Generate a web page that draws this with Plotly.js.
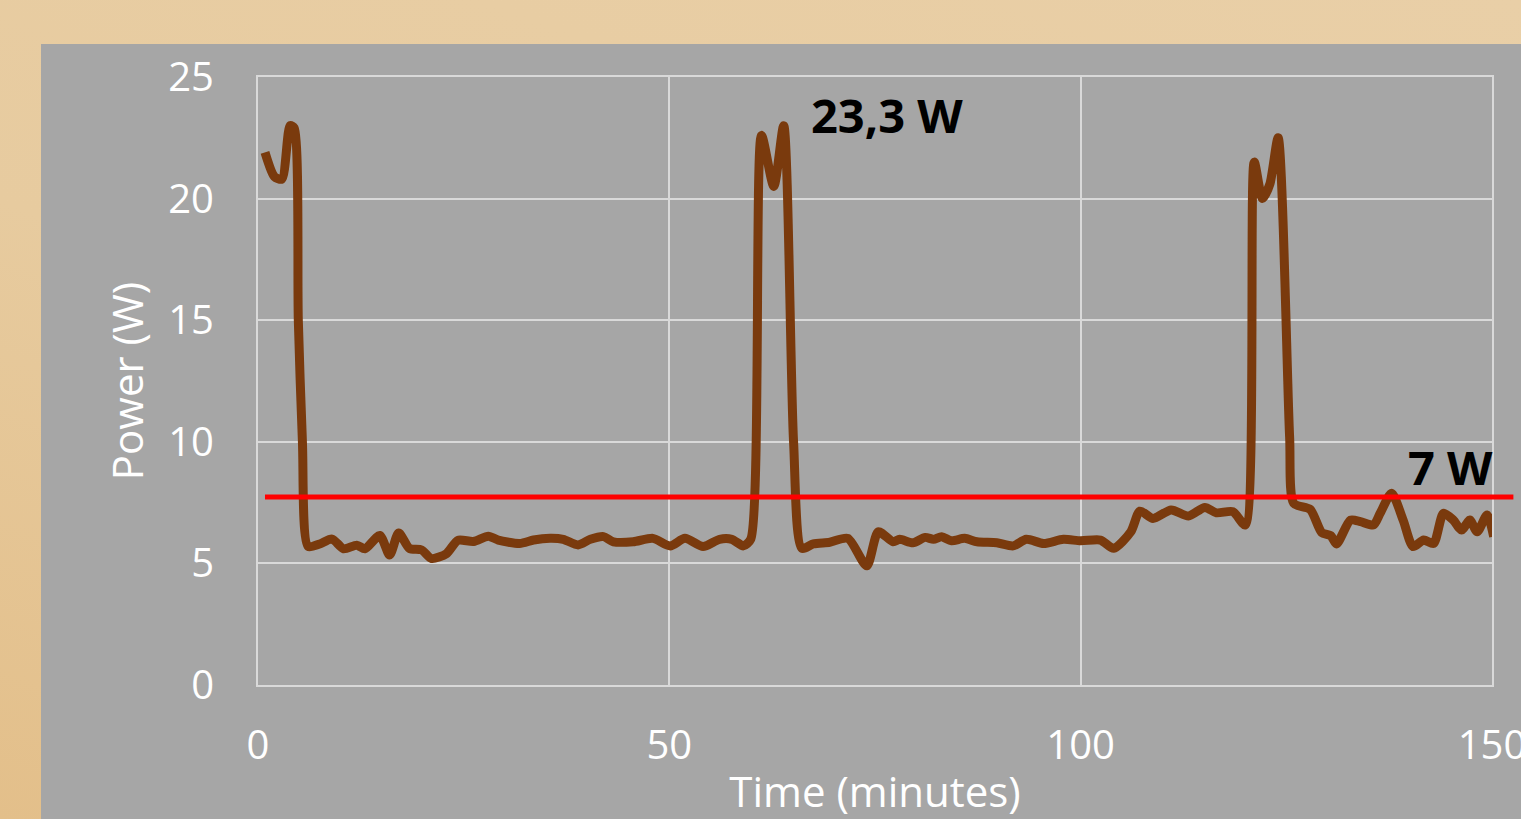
<!DOCTYPE html>
<html>
<head>
<meta charset="utf-8">
<script src="https://cdn.plot.ly/plotly-3.0.1.min.js"></script>
<style>
  html, body { margin: 0; padding: 0; width: 1521px; height: 819px; overflow: hidden; }
  body { background: linear-gradient(20deg, #e3bf8a 0%, #e7cb9f 45%, #e9cfa7 100%); position: relative; }
  #panel { position: absolute; left: 41px; top: 44px; right: 0; bottom: 0; background: #a6a6a6; }
  #chart { position: absolute; left: 0; top: 0; width: 1521px; height: 819px; }
</style>
</head>
<body>
<div id="panel"></div>
<div id="chart"></div>
<script>
// Time in minutes
const timeMin = [0.85, 2.0, 2.9, 3.9, 4.4, 4.9, 5.4, 6.1, 7.5, 9.0, 10.4, 12.0, 13.0, 14.8, 16.0, 17.1, 18.4, 19.9, 21.1, 22.9,
  24.3, 26.2, 28.0, 29.2, 31.8, 33.5, 35.5, 37.1, 38.9, 40.4, 42.0, 43.2, 45.6, 48.0, 50.1, 51.9, 54.1, 56.1, 57.6, 59.0,
  59.9, 61.2, 62.7, 63.9, 65.1, 66.1, 67.5, 69.5, 71.7, 74.0, 75.4, 77.2, 78.0, 79.6, 81.1, 82.1, 83.1, 84.3, 85.9, 87.4,
  89.8, 91.8, 93.4, 95.5, 97.9, 100.0, 102.4, 104.0, 106.1, 107.2, 108.8, 111.0, 113.1, 115.1, 116.5, 118.5, 120.0, 121.1, 122.1, 123.0,
  124.0, 125.4, 125.9, 127.9, 129.3, 130.4, 131.1, 132.8, 134.0, 135.6, 136.4, 137.8, 139.2, 140.4, 141.7, 142.9, 144.1, 145.3, 146.3, 147.3,
  148.2, 149.4, 150.2];
// Power in watts
const powerW = [21.9, 20.9, 20.8, 23.0, 22.9, 15.0, 10.0, 5.7, 5.8, 6.0, 5.6, 5.75, 5.6, 6.15, 5.35, 6.25, 5.62, 5.55, 5.2, 5.4,
  5.95, 5.9, 6.12, 5.96, 5.82, 5.96, 6.03, 5.99, 5.76, 5.99, 6.1, 5.89, 5.89, 6.03, 5.72, 6.03, 5.69, 5.99, 5.99, 5.72,
  6.0, 22.6, 20.5, 23.0, 10.0, 5.62, 5.8, 5.87, 6.03, 4.9, 6.3, 5.89, 5.99, 5.85, 6.07, 5.99, 6.1, 5.93, 6.03, 5.89,
  5.85, 5.72, 5.99, 5.82, 5.99, 5.93, 5.96, 5.62, 6.3, 7.15, 6.85, 7.2, 6.95, 7.3, 7.08, 7.13, 6.58, 21.5, 20.0, 20.6,
  22.5, 10.2, 7.47, 7.22, 6.27, 6.14, 5.8, 6.78, 6.72, 6.58, 7.06, 7.88, 6.78, 5.69, 5.96, 5.82, 7.06, 6.78, 6.37, 6.78,
  6.3, 6.99, 6.1];

// Reference line
const refLevel = 7.73;
const refStart = 0.85;
const refEnd = 152.6;

// Axes
const xRange = [0, 150];
const yRange = [0, 25];
const xTicks = [0, 50, 100, 150];
const yTicks = [0, 5, 10, 15, 20, 25];

// Labels
const peakLabel = {text: "23,3 W", x: 67.0, y: 23.45};
const refLabel = {text: "7 W", x: 150, y: 8.95};

const FONT = "Open Sans, Noto Sans, sans-serif";
const GRID = "#d9d9d9";

const data = [{
  type: "scatter",
  mode: "lines",
  x: timeMin,
  y: powerW,
  line: {color: "#7a3a0d", width: 9, shape: "spline", smoothing: 0.7},
  hoverinfo: "skip",
  showlegend: false
}];

const layout = {
  width: 1521,
  height: 819,
  paper_bgcolor: "rgba(0,0,0,0)",
  plot_bgcolor: "#a6a6a6",
  margin: {l: 258, r: 29, t: 77, b: 134, pad: 0},
  showlegend: false,
  xaxis: {
    range: xRange,
    tickvals: xTicks,
    ticktext: xTicks.map(String),
    showgrid: true,
    gridcolor: GRID,
    gridwidth: 2,
    zeroline: false,
    showline: true,
    mirror: true,
    linecolor: GRID,
    linewidth: 2,
    ticks: "outside",
    ticklen: 24,
    tickcolor: "rgba(0,0,0,0)",
    ticklabeloverflow: "allow",
    tickfont: {family: FONT, size: 40, color: "#ffffff"},
    title: {text: "Time (minutes)", font: {family: FONT, size: 42, color: "#ffffff"}, standoff: 28},
    fixedrange: true
  },
  yaxis: {
    range: yRange,
    tickvals: yTicks,
    ticktext: yTicks.map(String),
    showgrid: true,
    gridcolor: GRID,
    gridwidth: 2,
    zeroline: false,
    showline: true,
    mirror: true,
    linecolor: GRID,
    linewidth: 2,
    ticks: "outside",
    ticklen: 34,
    tickcolor: "rgba(0,0,0,0)",
    tickfont: {family: FONT, size: 40, color: "#ffffff"},
    title: {text: "Power (W)", font: {family: FONT, size: 42, color: "#ffffff"}, standoff: 12},
    fixedrange: true
  },
  shapes: [{
    type: "line",
    xref: "paper", yref: "y",
    x0: (refStart - xRange[0]) / (xRange[1] - xRange[0]),
    x1: (refEnd - xRange[0]) / (xRange[1] - xRange[0]),
    y0: refLevel, y1: refLevel,
    line: {color: "#ff0000", width: 5}
  }],
  annotations: [
    {x: peakLabel.x, y: peakLabel.y, xref: "x", yref: "y", text: "<b>" + peakLabel.text + "</b>",
     showarrow: false, xanchor: "left", yanchor: "middle",
     font: {family: FONT, size: 47, color: "#000000"}},
    {x: refLabel.x, y: refLabel.y, xref: "x", yref: "y", text: "<b>" + refLabel.text + "</b>",
     showarrow: false, xanchor: "right", yanchor: "middle", xshift: 3,
     font: {family: FONT, size: 47, color: "#000000"}}
  ]
};

Plotly.newPlot("chart", data, layout, {displayModeBar: false, staticPlot: true});
</script>
</body>
</html>
